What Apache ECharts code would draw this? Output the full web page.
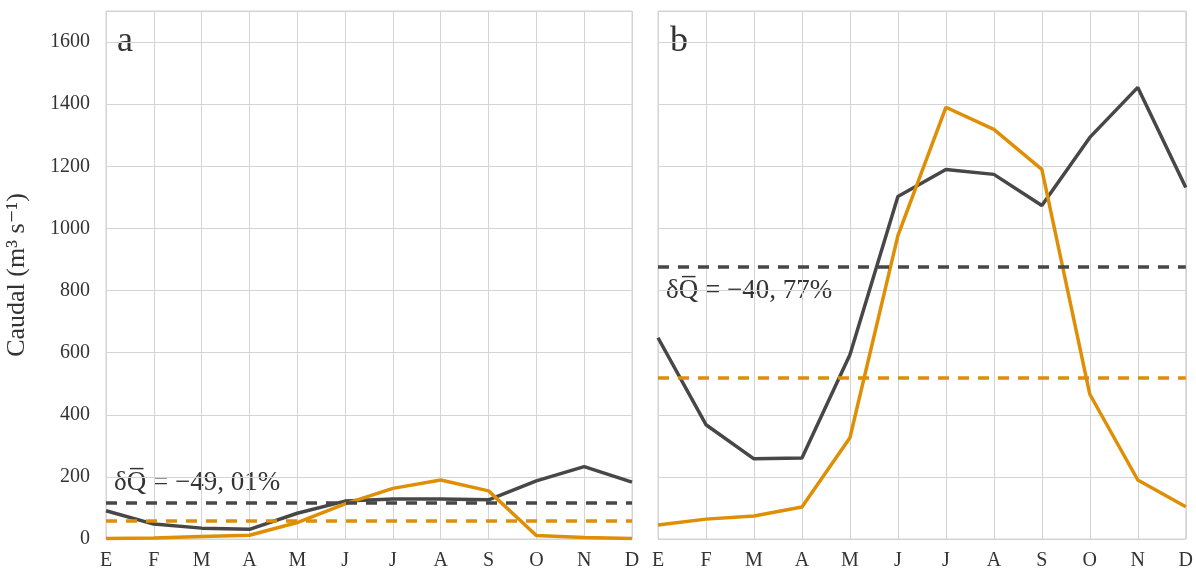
<!DOCTYPE html>
<html>
<head>
<meta charset="utf-8">
<script src="https://cdn.jsdelivr.net/npm/echarts@6/dist/echarts.min.js"></script>
<style>
  html, body { margin: 0; padding: 0; background: #fff; }
  #chart { width: 1196px; height: 574px; }
</style>
</head>
<body>
<div id="chart"></div>
<script>
const months = ['E', 'F', 'M', 'A', 'M', 'J', 'J', 'A', 'S', 'O', 'N', 'D'];

// panel a
const obsA = [91, 48, 35, 31, 83, 122, 129, 129, 126, 187, 233, 183];
const simA = [2, 3, 8, 12, 53, 113, 163, 190, 155, 11, 5, 2];
const meanObsA = 118;
const meanSimA = 58;
const labelA = 'δQ̅ = −49, 01%';

// panel b
const obsB = [648, 368, 258, 261, 593, 1103, 1190, 1174, 1074, 1293, 1454, 1132];
const simB = [45, 64, 74, 103, 326, 977, 1390, 1319, 1190, 466, 190, 104];
const meanObsB = 878;
const meanSimB = 520;
const labelB = 'δQ̅ = −40, 77%';

const dark = '#474747';
const orange = '#de8f05';
const gridGrey = '#d4d4d4';
const font = '"Liberation Serif", "DejaVu Serif", serif';

const chart = echarts.init(document.getElementById('chart'));

function xAxisCfg(i) {
  return {
    type: 'category',
    gridIndex: i,
    data: months,
    boundaryGap: false,
    axisLine: { show: false },
    axisTick: { show: false },
    axisLabel: { fontFamily: font, fontSize: 20, color: '#333', margin: 12 },
    splitLine: { show: true, lineStyle: { color: gridGrey, width: 1 } }
  };
}

function yAxisCfg(i, showLabels) {
  return {
    type: 'value',
    gridIndex: i,
    min: 0,
    max: 1700,
    interval: 200,
    axisLine: { show: false },
    axisTick: { show: false },
    axisLabel: {
      show: showLabels,
      showMaxLabel: false,
      formatter: v => String(v),
      fontFamily: font,
      fontSize: 20,
      color: '#333',
      margin: 16
    },
    splitLine: { show: true, lineStyle: { color: gridGrey, width: 1 } },
    name: showLabels ? 'Caudal (m³ s⁻¹)' : '',
    nameLocation: 'middle',
    nameGap: 76,
    nameTextStyle: { fontFamily: font, fontSize: 26, color: '#333' }
  };
}

function meanLine(value, color) {
  return {
    silent: true,
    symbol: 'none',
    label: { show: false },
    lineStyle: { color: color, type: [11, 9], width: 3.5 },
    data: [{ yAxis: value }]
  };
}

function lineSeries(name, data, color, axis, mean) {
  return {
    name: name,
    type: 'line',
    xAxisIndex: axis,
    yAxisIndex: axis,
    data: data,
    symbol: 'none',
    smooth: false,
    lineStyle: { color: color, width: 3.5 },
    itemStyle: { color: color },
    markLine: meanLine(mean, color)
  };
}

const option = {
  animation: false,
  backgroundColor: '#fff',
  grid: [
    { left: 106, top: 11, width: 526, height: 528, show: true, borderColor: gridGrey, borderWidth: 1 },
    { left: 658, top: 11, width: 528, height: 528, show: true, borderColor: gridGrey, borderWidth: 1 }
  ],
  xAxis: [xAxisCfg(0), xAxisCfg(1)],
  yAxis: [yAxisCfg(0, true), yAxisCfg(1, false)],
  series: [
    lineSeries('obs a', obsA, dark, 0, meanObsA),
    lineSeries('sim a', simA, orange, 0, meanSimA),
    lineSeries('obs b', obsB, dark, 1, meanObsB),
    lineSeries('sim b', simB, orange, 1, meanSimB)
  ],
  graphic: [
    { type: 'text', left: 117, top: 24, style: { text: 'a', fontFamily: font, fontSize: 36, fill: '#333' } },
    { type: 'text', left: 670, top: 24, style: { text: 'b', fontFamily: font, fontSize: 36, fill: '#333' } },
    { type: 'text', left: 114, top: 469, style: { text: labelA, fontFamily: font, fontSize: 27, fill: '#333' } },
    { type: 'text', left: 666, top: 277, style: { text: labelB, fontFamily: font, fontSize: 27, fill: '#333' } }
  ]
};

chart.setOption(option);
</script>
</body>
</html>
